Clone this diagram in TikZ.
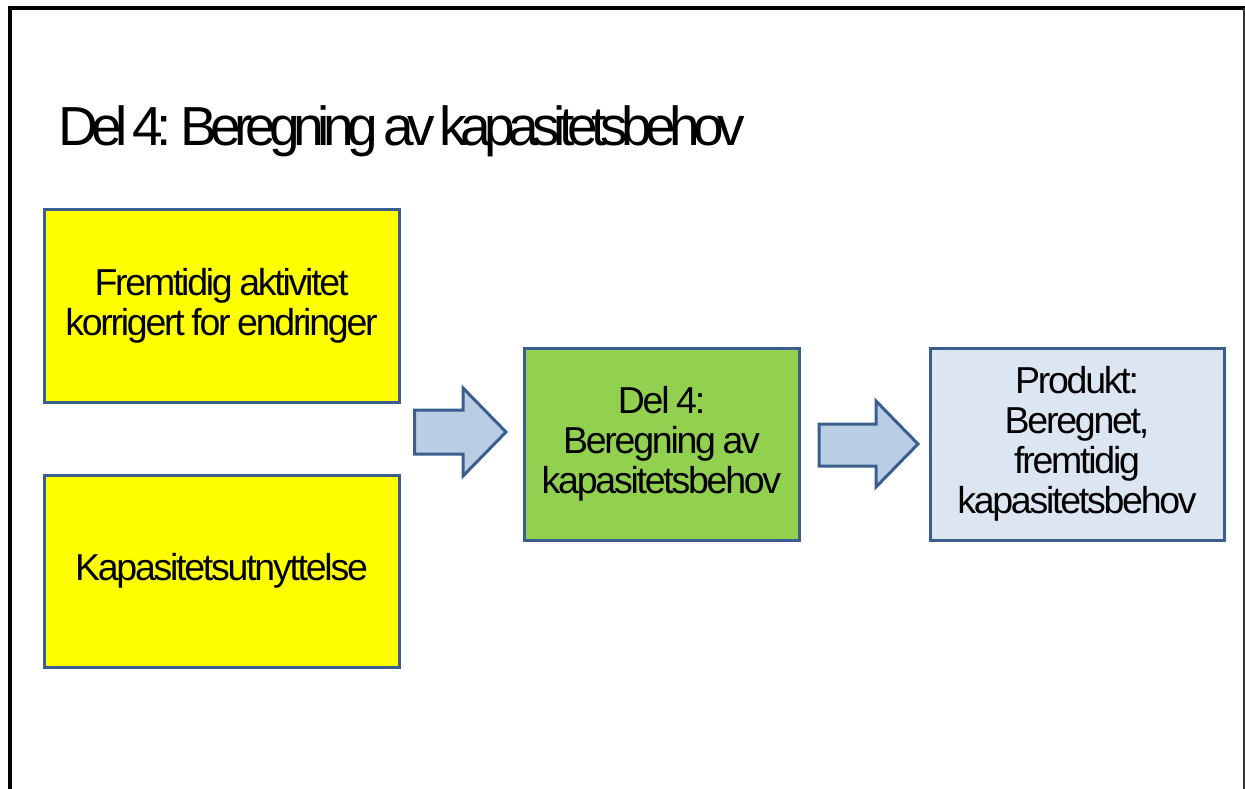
\documentclass[tikz,border=0pt]{standalone}
\usepackage{fontspec}
\setmainfont{Liberation Sans}
\newfontfamily\titlefont[LetterSpace=-12,WordSpace=0.6]{Liberation Sans}
\newfontfamily\boxfont[LetterSpace=-6,WordSpace=0.8]{Liberation Sans}
\definecolor{edge}{HTML}{3A5F8E}
\definecolor{arrowfill}{HTML}{B9CDE5}
\definecolor{stepgreen}{HTML}{92D050}
\definecolor{resultblue}{HTML}{DCE6F2}
\definecolor{inputyellow}{HTML}{FFFF00}
\begin{document}
\begin{tikzpicture}[x=1pt,y=-1pt,
  box/.style={draw=edge, line width=3pt, inner sep=0pt, align=center,
    font=\boxfont\fontsize{37.5}{40}\selectfont},
  blockarrow/.style={draw=edge, fill=arrowfill, line width=3pt, line join=miter}]
\useasboundingbox (0,0) rectangle (1245,789);
% slide frame
\draw[line width=4pt] (10,789) -- (10,8) -- (1245,8);
\draw[line width=2pt, black!80] (1244,8) -- (1244,789);
% heading
\node[anchor=base west, inner sep=0pt, font=\titlefont\fontsize{55}{60}\selectfont]
  (title) at (58,146) {Del 4: Beregning av kapasitetsbehov};
% input boxes
\node[box, fill=inputyellow, minimum width=355, minimum height=193] (akt) at (221.5,305.5)
  {Fremtidig aktivitet\\korrigert for endringer};
\node[box, fill=inputyellow, minimum width=355, minimum height=192] (kap) at (221.5,571)
  {Kapasitetsutnyttelse};
% calculation step
\node[box, fill=stepgreen, minimum width=275, minimum height=192] (del) at (661.5,444)
  {Del 4:\\Beregning av\\kapasitetsbehov};
% result
\node[box, fill=resultblue, minimum width=294, minimum height=192] (prod) at (1077,444)
  {Produkt:\\Beregnet,\\fremtidig\\kapasitetsbehov};
% block arrows
\draw[blockarrow] (414.5,410) -- (463,410) -- (463,388) -- (506,432) -- (463,476)
  -- (463,454) -- (414.5,454) -- cycle;
\draw[blockarrow] (819,424) -- (876,424) -- (876,401) -- (918,444) -- (876,487)
  -- (876,466) -- (819,466) -- cycle;
\end{tikzpicture}
\end{document}
